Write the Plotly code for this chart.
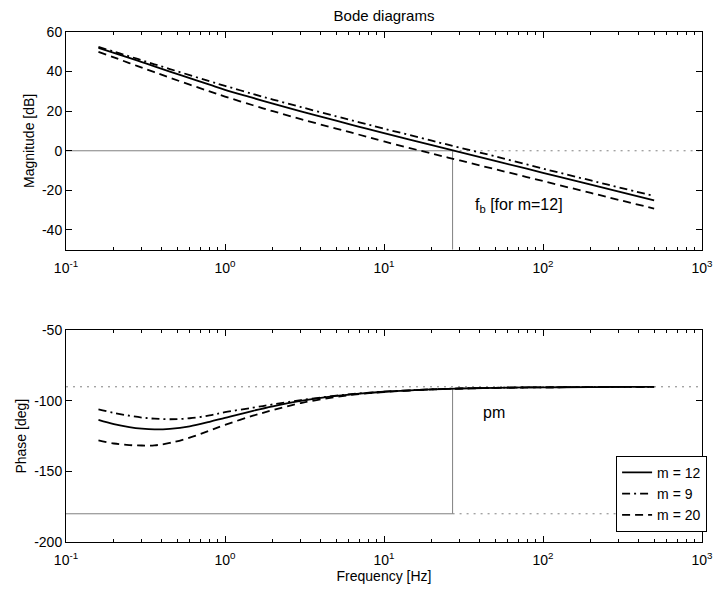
import plotly.graph_objects as go
from plotly.subplots import make_subplots

# frequency grid [Hz]
freq = [0.16, 0.2, 0.25, 0.3, 0.36, 0.45, 0.6, 0.8, 1, 1.5, 2, 3, 5, 7, 10,
        20, 30, 50, 100, 200, 300, 500]

# magnitude [dB]
mag_m12 = [52.0, 49.5, 46.9, 44.8, 42.6, 40.0, 36.7, 33.4, 30.8, 26.7, 23.8, 19.9,
           15.2, 12.1, 8.9, 2.8, -0.7, -5.1, -11.1, -17.1, -20.6, -25.0]
mag_m9 = [52.5, 50.1, 47.7, 45.7, 43.7, 41.3, 38.2, 35.1, 32.8, 28.7, 25.9, 22.1,
          17.4, 14.4, 11.2, 5.1, 1.6, -2.8, -9.0, -15.0, -18.5, -22.8]
mag_m20 = [50.0, 47.2, 44.3, 42.0, 39.7, 36.9, 33.4, 30.0, 27.4, 23.0, 20.0, 16.0,
           11.2, 8.1, 4.7, -1.4, -4.9, -9.3, -15.3, -21.3, -24.8, -29.2]

# phase [deg]
ph_m12 = [-113.5, -116.5, -118.6, -119.7, -120.2, -119.8, -118.0, -114.8, -112.0, -107.0,
          -103.8, -100.0, -96.5, -94.8, -93.5, -91.8, -91.2, -90.7, -90.4, -90.2, -90.1, -90.1]
ph_m9 = [-106.0, -108.5, -110.5, -111.8, -112.6, -113.0, -112.3, -110.3, -108.0, -104.8,
         -102.5, -99.5, -96.3, -94.7, -93.4, -91.8, -91.2, -90.7, -90.4, -90.2, -90.1, -90.1]
ph_m20 = [-128.0, -130.2, -131.3, -131.6, -131.5, -129.8, -126.0, -121.0, -117.0, -110.5,
          -106.5, -101.5, -97.2, -95.1, -93.7, -91.9, -91.3, -90.8, -90.4, -90.2, -90.1, -90.1]

fb = 27  # crossover frequency for m=12
x_ticks = [0.1, 1, 10, 100, 1000]
x_ticktext = ["10<sup>-1</sup>", "10<sup>0</sup>", "10<sup>1</sup>", "10<sup>2</sup>", "10<sup>3</sup>"]
mag_ticks = [-40, -20, 0, 20, 40, 60]
ph_ticks = [-200, -150, -100, -50]
minor_vals = [k * 10 ** e for e in range(-1, 3) for k in range(2, 10)]

series = [
    ("m = 12", mag_m12, ph_m12, "solid"),
    ("m = 9", mag_m9, ph_m9, "8px,4px,2px,4px"),
    ("m = 20", mag_m20, ph_m20, "8px,5px"),
]

fig = make_subplots(rows=2, cols=1)
grey = "#808080"


def ref_line(x, y, row, dotted=False):
    fig.add_trace(go.Scatter(x=x, y=y, mode="lines",
                             line=dict(color=grey, width=1, dash="2px,5px" if dotted else "solid"),
                             showlegend=False, hoverinfo="skip"), row=row, col=1)


# reference lines
ref_line([0.1, fb], [0, 0], 1)
ref_line([fb, 1000], [0, 0], 1, dotted=True)
ref_line([fb, fb], [0, -50], 1)
ref_line([0.1, 1000], [-90, -90], 2, dotted=True)
ref_line([0.1, fb], [-180, -180], 2)
ref_line([fb, 1000], [-180, -180], 2, dotted=True)
ref_line([fb, fb], [-180, -91], 2)

for name, mag, ph, dash in series:
    fig.add_trace(go.Scatter(x=freq, y=mag, mode="lines", name=name, line_shape="spline",
                             line=dict(color="black", width=1.8, dash=dash), showlegend=False),
                  row=1, col=1)
    fig.add_trace(go.Scatter(x=freq, y=ph, mode="lines", name=name, line_shape="spline",
                             line=dict(color="black", width=1.8, dash=dash)),
                  row=2, col=1)

axis_style = dict(showline=True, linecolor="black", linewidth=1, mirror="allticks",
                  ticks="inside", ticklen=6, tickcolor="black", showgrid=False,
                  zeroline=False, tickfont=dict(size=14, color="black"))

for r in (1, 2):
    fig.update_xaxes(type="log", range=[-1, 3], tickvals=x_ticks, ticktext=x_ticktext,
                     ticklabelstandoff=5,
                     minor=dict(tickvals=minor_vals, ticks="inside", ticklen=3, tickcolor="black"),
                     row=r, col=1, **axis_style)

fig.update_yaxes(range=[-50, 60], tickvals=mag_ticks, ticktext=[str(v) for v in mag_ticks],
                 title=dict(text="Magnitude [dB]", font=dict(size=14), standoff=4),
                 row=1, col=1, **axis_style)
fig.update_yaxes(range=[-200, -50], tickvals=ph_ticks, ticktext=[str(v) for v in ph_ticks],
                 title=dict(text="Phase [deg]", font=dict(size=14), standoff=4),
                 row=2, col=1, **axis_style)
fig.update_xaxes(title=dict(text="Frequency [Hz]", font=dict(size=14), standoff=4), row=2, col=1)

fig.add_annotation(x=1.56, y=-27.7, xref="x", yref="y", text="f<sub>b</sub> [for m=12]",
                   showarrow=False, xanchor="left", font=dict(size=16, color="black"))
fig.add_annotation(x=1.61, y=-108.4, xref="x2", yref="y2", text="pm",
                   showarrow=False, xanchor="left", font=dict(size=16, color="black"))

# the page body adds an 8px margin, so the figure is sized to fit inside it
fig.update_layout(
    width=717, height=586,
    template="simple_white",
    paper_bgcolor="white", plot_bgcolor="white",
    font=dict(family="Liberation Sans, Arial, sans-serif", color="black"),
    title=dict(text="Bode diagrams", x=0.5, xref="paper", xanchor="center",
               y=0.995, yanchor="top", font=dict(size=15, color="black")),
    margin=dict(l=55, r=19, t=24, b=46),
    showlegend=True,
    legend=dict(x=1.008, y=0.02, xanchor="right", yanchor="bottom", bgcolor="white",
                bordercolor="black", borderwidth=1, font=dict(size=14),
                tracegroupgap=0, itemwidth=30),
)
fig.layout.yaxis.domain = [0.573, 1]
fig.layout.yaxis2.domain = [0, 0.415]

fig.write_html("out.html")
